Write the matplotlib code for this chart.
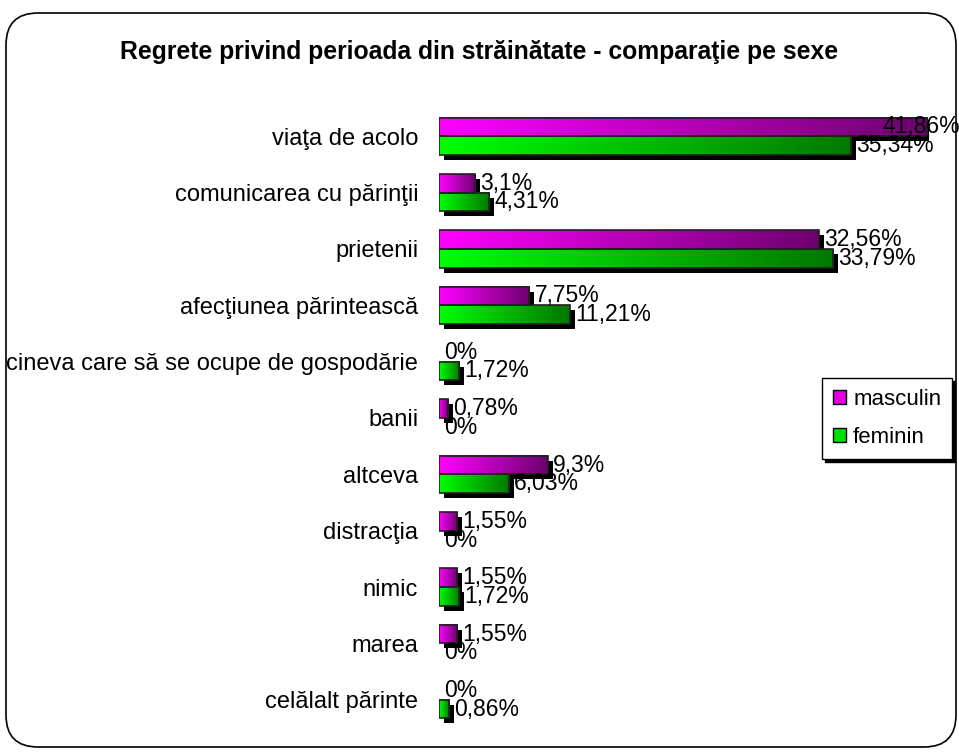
import numpy as np
import matplotlib
matplotlib.use("Agg")
import matplotlib.pyplot as plt
from matplotlib.patches import Rectangle, FancyBboxPatch, Patch
from matplotlib.colors import LinearSegmentedColormap
import matplotlib.transforms as mtransforms

plt.rcParams['font.family'] = ['Liberation Sans', 'DejaVu Sans']

# date
categorii = ["viaţa de acolo", "comunicarea cu părinţii", "prietenii",
             "afecţiunea părintească", "cineva care să se ocupe de gospodărie",
             "banii", "altceva", "distracţia", "nimic", "marea", "celălalt părinte"]
masculin = [41.86, 3.1, 32.56, 7.75, 0, 0.78, 9.3, 1.55, 1.55, 1.55, 0]
feminin = [35.34, 4.31, 33.79, 11.21, 1.72, 0, 6.03, 0, 1.72, 0, 0.86]
serii = ["masculin", "feminin"]
titlu = "Regrete privind perioada din străinătate - comparaţie pe sexe"

W, H = 959, 752
fig = plt.figure(figsize=(W / 100, H / 100), dpi=100)

# chenar rotunjit, in pixeli
bg = fig.add_axes([0, 0, 1, 1], zorder=-5)
bg.set_xlim(0, W)
bg.set_ylim(H, 0)
bg.axis('off')
bg.add_patch(FancyBboxPatch((6, 13), 950, 734, boxstyle="round,pad=0,rounding_size=32",
                            facecolor='white', edgecolor='black', lw=1.2))
fig.text(0.5, 1 - 52 / H, titlu, ha='center', va='center', fontsize=17.8, fontweight='bold')

ax = fig.add_axes([439 / W, 1 - 728 / H, 490 / W, 620 / H])
ax.set_xlim(0, 42)
ax.set_ylim(len(categorii) - 0.5, -0.5)
for s in ax.spines.values():
    s.set_visible(False)
ax.set_xticks([])
ax.set_yticks(range(len(categorii)))
ax.set_yticklabels(categorii, fontsize=17)
ax.tick_params(axis='y', length=0, pad=15)

cmap_m = LinearSegmentedColormap.from_list("m", ["#ff00ff", "#6e006e"])
cmap_f = LinearSegmentedColormap.from_list("f", ["#00ff00", "#007800"])
grad = np.linspace(0, 1, 256).reshape(1, -1)

h = 0.33
umbra = mtransforms.ScaledTranslation(5 / 100, -5 / 100, fig.dpi_scale_trans)
txt_off = mtransforms.ScaledTranslation(5 / 100, 0, fig.dpi_scale_trans)
etichete = []

for valori, cmap, sign in [(masculin, cmap_m, -1), (feminin, cmap_f, 1)]:
    for i, v in enumerate(valori):
        y0 = i if sign > 0 else i - h
        yc = y0 + h / 2
        if v > 0:
            ax.add_patch(Rectangle((0, y0), v, h, facecolor='black', edgecolor='none',
                                   transform=ax.transData + umbra, zorder=1))
            ax.imshow(grad, cmap=cmap, extent=[0, v, y0 + h, y0], aspect='auto',
                      interpolation='bilinear', zorder=2)
            ax.add_patch(Rectangle((0, y0), v, h, facecolor='none', edgecolor='#202020',
                                   lw=1.2, zorder=3))
        lab = f"{v:g}".replace('.', ',') + '%'
        t = ax.text(v, yc, lab, fontsize=16.5, va='center', ha='left',
                    transform=ax.transData + txt_off, clip_on=False, zorder=4)
        etichete.append(t)

ax.set_xlim(0, 42)
ax.set_ylim(len(categorii) - 0.5, -0.5)

# etichetele care ies din chenar se muta spre stanga
fig.canvas.draw()
r = fig.canvas.get_renderer()
for t in etichete:
    bb = t.get_window_extent(r)
    if bb.x1 > W + 1:
        t.set_transform(ax.transData + mtransforms.ScaledTranslation(
            -(bb.x1 - W - 1) / 100 + 5 / 100, 0, fig.dpi_scale_trans))

handles = [Patch(facecolor='#e000e0', edgecolor='black', label=serii[0]),
           Patch(facecolor='#00e000', edgecolor='black', label=serii[1])]
leg = fig.legend(handles=handles, loc='upper left', bbox_to_anchor=(822 / W, 1 - 378 / H),
                 fontsize=16, frameon=True, fancybox=False, shadow={'color': 'black', 'alpha': 1},
                 handlelength=0.6, handleheight=0.6, handletextpad=0.3, borderpad=0.5,
                 labelspacing=0.75, borderaxespad=0)
leg.get_frame().set_edgecolor('black')
leg.get_frame().set_linewidth(1)

fig.savefig("out.png", dpi=100)
